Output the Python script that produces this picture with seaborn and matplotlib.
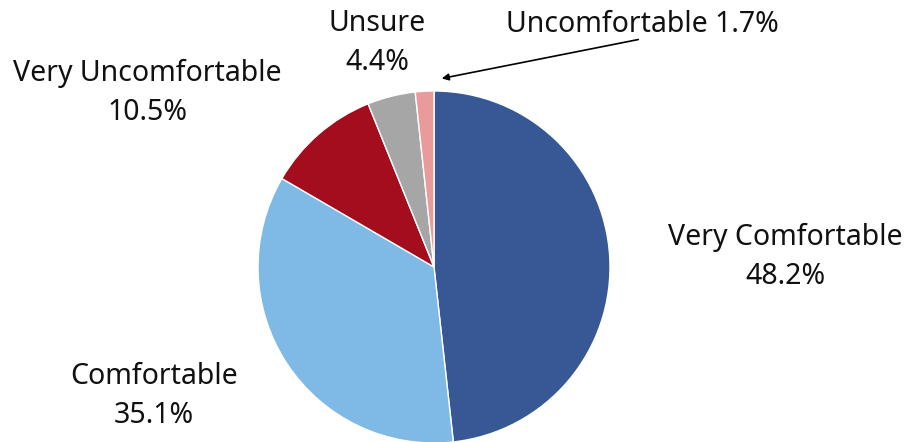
import matplotlib.pyplot as plt
import seaborn as sns

# survey shares, clockwise from 12 o'clock
labels = ['Very Comfortable', 'Comfortable', 'Very Uncomfortable', 'Unsure', 'Uncomfortable']
shares = [48.2, 35.1, 10.5, 4.4, 1.7]
colors = ['#385895', '#7fb9e6', '#a30d1d', '#a6a6a6', '#e99b9b']

sns.set_theme(style='white')
plt.rcParams['font.family'] = ['Noto Sans', 'DejaVu Sans']

W, H = 916, 442
fig = plt.figure(figsize=(W / 100, H / 100), dpi=100)
ax = fig.add_axes([258 / W, -1 / H, 352 / W, 352 / H])
ax.pie(shares, colors=colors, startangle=90, counterclock=False,
       wedgeprops=dict(edgecolor='white', linewidth=1))
ax.set_xlim(-1, 1)
ax.set_ylim(-1, 1)

# label centres in pixels (from top-left)
label_pos = {
    'Very Comfortable': (785, 257),
    'Comfortable': (154, 396),
    'Very Uncomfortable': (147, 93),
    'Unsure': (377, 43),
}
for name, share in zip(labels, shares):
    if name in label_pos:
        x, y = label_pos[name]
        fig.text(x / W, 1 - y / H, f'{name}\n{share}%', ha='center', va='center',
                 fontsize=20.5, linespacing=1.42, color='#111111')

# small slice gets an arrow
fig.text(642 / W, 1 - 24 / H, f'{labels[4]} {shares[4]}%', ha='center', va='center',
         fontsize=20.5, color='#111111')
ax.annotate('', xy=(439, H - 79), xycoords='figure pixels',
            xytext=(641, H - 39), textcoords='figure pixels',
            arrowprops=dict(arrowstyle='-|>', color='black', lw=1.2, mutation_scale=10))

fig.savefig('out.png', dpi=100)
